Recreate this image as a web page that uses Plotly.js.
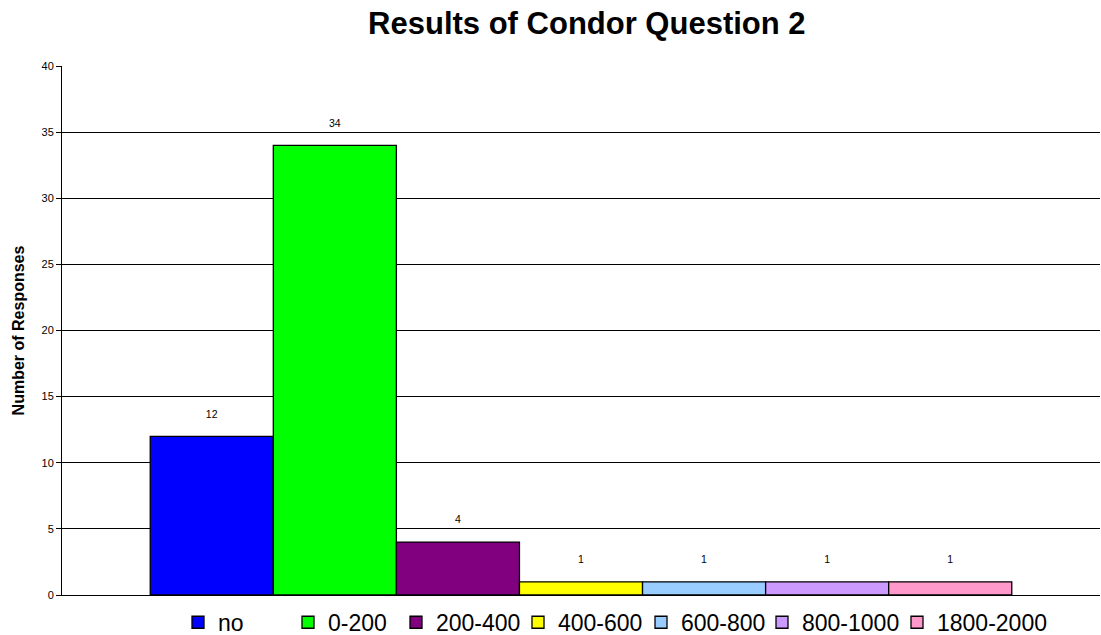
<!DOCTYPE html>
<html>
<head>
<meta charset="utf-8">
<script src="https://cdn.plot.ly/plotly-3.0.1.min.js"></script>
<style>html,body{margin:0;padding:0;background:#fff}#chart{width:1101px;height:635px}</style>
</head>
<body>
<div id="chart"></div>
<script>
const seriesNames = ["no", "0-200", "200-400", "400-600", "600-800", "800-1000", "1800-2000"];
const seriesValues = [12, 34, 4, 1, 1, 1, 1];
const seriesColors = ["#0000FF", "#00FF00", "#800080", "#FFFF00", "#99CCFF", "#CC99FF", "#FF99CC"];
const category = ["Q2"];
const gridTicks = [0, 5, 10, 15, 20, 25, 30, 35];
const topTick = [40];

// layout: left edge (px) of each legend entry, as in the reference
const legendLeftPx = [178, 288, 396, 518, 641, 762, 897];

const legendId = i => (i === 0 ? "legend" : "legend" + (i + 1));

const traces = seriesNames.map((name, i) => ({
  type: "bar",
  name: name,
  x: category,
  y: [seriesValues[i]],
  legend: legendId(i),
  text: [String(seriesValues[i]) + "<br> "],
  textposition: "outside",
  textfont: {family: "Arial, Liberation Sans, sans-serif", size: 10.5, color: "#000"},
  cliponaxis: false,
  marker: {color: seriesColors[i], line: {color: "#000", width: 1.3}},
  hoverinfo: "name+y"
}));
traces.push({type: "scatter", x: category, y: [null], yaxis: "y2", showlegend: false, hoverinfo: "skip"});

const W = 1101, H = 635;
const layout = {
  width: W, height: H,
  margin: {l: 62, r: 1, t: 66, b: 40},
  paper_bgcolor: "#fff", plot_bgcolor: "#fff",
  font: {family: "Arial, Liberation Sans, sans-serif", color: "#000"},
  title: {text: "<b>Results of Condor Question 2</b>", font: {size: 31, color: "#000"}, x: 0.533, xanchor: "center", xref: "container", y: 0.963, yanchor: "middle", yref: "container"},
  barmode: "group",
  bargap: 0.17,
  bargroupgap: 0,
  showlegend: true,
  xaxis: {showticklabels: false, ticks: "", showline: true, linecolor: "#000", linewidth: 1, showgrid: false, zeroline: false, fixedrange: true},
  yaxis: {range: [0, 40], tickvals: gridTicks, ticks: "outside", ticklen: 5, tickcolor: "#000", tickfont: {size: 11, color: "#000"},
          showgrid: true, gridcolor: "#000", gridwidth: 1, showline: true, linecolor: "#000", linewidth: 1, zeroline: false,
          title: {text: "<b>Number of Responses</b>", font: {size: 16, color: "#000"}, standoff: 12}},
  yaxis2: {overlaying: "y", side: "left", range: [0, 40], tickvals: topTick, ticks: "outside", ticklen: 5, tickcolor: "#000",
           tickfont: {size: 11, color: "#000"}, showgrid: false, showline: false, zeroline: false}
};
seriesNames.forEach((n, i) => {
  layout[legendId(i)] = {orientation: "h", xref: "container", x: legendLeftPx[i] / W, xanchor: "left",
                         yref: "container", y: 0.02, yanchor: "middle", bgcolor: "rgba(0,0,0,0)",
                         font: {size: 23, color: "#000"}, itemwidth: 30};
});

Plotly.newPlot("chart", traces, layout, {displayModeBar: false, staticPlot: true});
</script>
</body>
</html>
